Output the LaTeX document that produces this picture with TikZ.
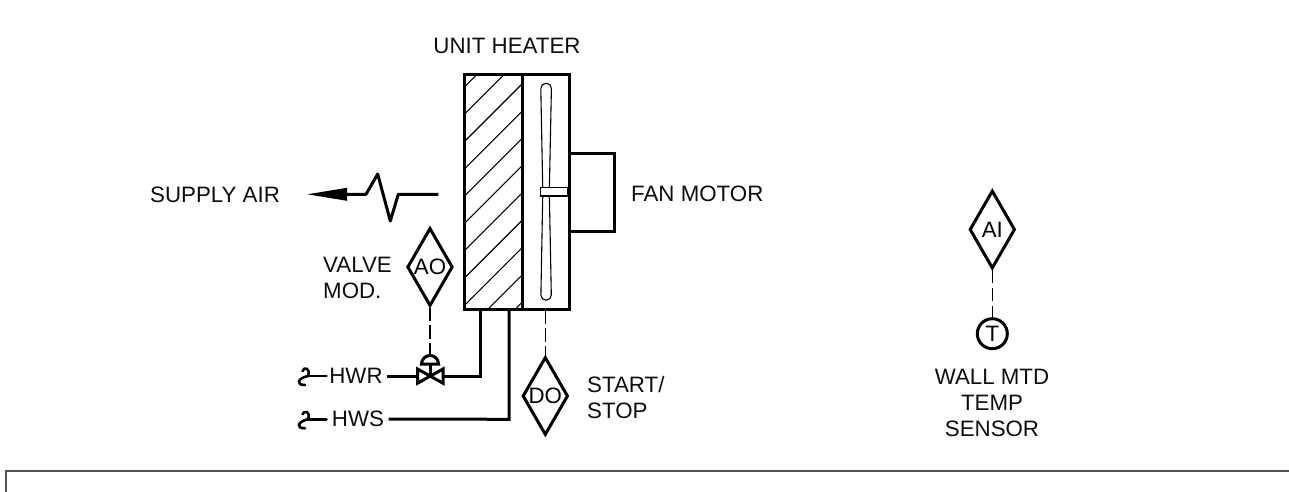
\documentclass[tikz,border=0pt]{standalone}
\usepackage{fontspec}
\setmainfont{Liberation Sans}
\usetikzlibrary{shapes.geometric,arrows.meta}
\tikzset{
  heavy/.style={line width=3pt,line join=miter},
  thin line/.style={line width=1.1pt},
  signal/.style={line width=1.2pt,dash pattern=on 13.3pt off 4.5pt},
  lbl/.style={inner sep=0pt,font=\fontsize{22.3}{26}\selectfont,text=black!95},
  pointbox/.style={diamond,draw,heavy,inner sep=0pt,minimum width=45.5pt,minimum height=78pt,aspect=0.58,font=\fontsize{22.3}{20}\selectfont},
  break/.style={line width=2.6pt,line cap=round}
}
\begin{document}
\begin{tikzpicture}[x=1pt,y=-1pt]
\useasboundingbox (0,0) rectangle (1289,492);
% border
\draw[line width=1.6pt,draw=black!68] (6,492) -- (6,471) -- (1289,471);
% hatching
\begin{scope}
\clip (464,74.5) rectangle (522,309);
\foreach \k in {0,...,10}{
  \pgfmathsetmacro\s{551.4+27.3*\k}
  \draw[thin line] (\s-500,500) -- (\s-0,0);
}
\end{scope}
% fan blade
\draw[thin line,fill=white] (540.8,88.5) arc[start angle=180,end angle=360,radius=5.3] -- (549.3,192) -- (551.3,295) arc[start angle=0,end angle=180,radius=5.2] -- (542.8,192) -- cycle;
\node[draw,thin line,fill=white,minimum width=26.5pt,minimum height=8.5pt,inner sep=0pt] (hub) at (554,191.7) {};
% unit boxes
\node[draw,heavy,minimum width=58pt,minimum height=234.5pt,inner sep=0pt] (coil) at (493,191.75) {};
\node[draw,heavy,minimum width=47pt,minimum height=234.5pt,inner sep=0pt] (fan) at (545.5,191.75) {};
\coordinate (mt) at (569,153); \coordinate (mtr) at (614,153);
\coordinate (mbr) at (614,231); \coordinate (mb) at (569,231);
\draw[heavy] (mt) -- (mtr) -- (mbr) -- (mb);
% supply air
\coordinate (airtail) at (438.3,194.3);
\coordinate (airend) at (346.7,194.3);
\coordinate (airtip) at (307.3,194.3);
\draw[heavy,line join=round] (airtail) -- (398.3,194.3) -- (390.3,221) -- (377.7,174) -- (366,194.3) -- (airend);
\fill (airtip) -- (347,187.8) -- (347,200.8) -- cycle;
% labels
\node[lbl] (uh) at (507,46) {UNIT HEATER};
\node[lbl,anchor=west] (sa) at (150,195) {SUPPLY AIR};
\node[lbl,anchor=west] (fm) at (631,194) {FAN MOTOR};
\node[lbl,anchor=west,align=left] (vm) at (323,278) {VALVE\\MOD.};
\node[lbl,anchor=west,align=left] (ss) at (587,398) {START/\\STOP};
\node[lbl,align=center] (ws) at (992,403) {WALL MTD\\TEMP\\SENSOR};
% points
\node[pointbox] (ao) at (430,267) {AO};
\node[pointbox] (do) at (545.3,396) {DO};
\node[pointbox] (ai) at (992.3,229.5) {AI};
\node[circle,draw,heavy,minimum size=30pt,inner sep=0pt,font=\fontsize{22.3}{20}\selectfont] (t) at (992.3,333.7) {T};
% valve
\coordinate (vc) at (430,376);
\coordinate (act) at (430,364);
\draw[heavy] (417.5,369) -- (443,383.2) -- (443,369) -- (417.5,383.2) -- cycle;
\draw[heavy] (act) -- (vc);
\draw[heavy] (421.5,364) arc[start angle=180,end angle=360,radius=8.5] -- cycle;
% signals
\draw[signal] (ao.south) -- (430,355.5);
\draw[signal] (fan.south -| do.north) -- (do.north);
\draw[signal] (ai.south) -- (t.north);
% pipes
\node[lbl] (hwr) at (356,376) {HWR};
\node[lbl] (hws) at (358,419) {HWS};
\coordinate (vr) at (443,376); \coordinate (vl) at (417.5,376);
\coordinate (rc) at (480,309); \coordinate (sc) at (509,309);
\draw[heavy] (hwr.east)++(4.5,0) -- (vl);
\draw[heavy] (vr) -- (480,376) -- (rc);
\draw[heavy] (hws.east)++(4.5,0) -- (509,419.3) -- (sc);
% breaks
\foreach \y/\n in {376/a,419.3/b}{
  \coordinate (br\n) at (326.5,\y);
  \draw[break] (br\n) -- (308,\y);
  \draw[break] (302.5,\y-5) .. controls (304,\y-9.5) and (311,\y-8) .. (308,\y);
  \draw[break] (308,\y) .. controls (298,\y+2) and (295,\y+9) .. (305,\y+9);
}
\end{tikzpicture}
\end{document}
